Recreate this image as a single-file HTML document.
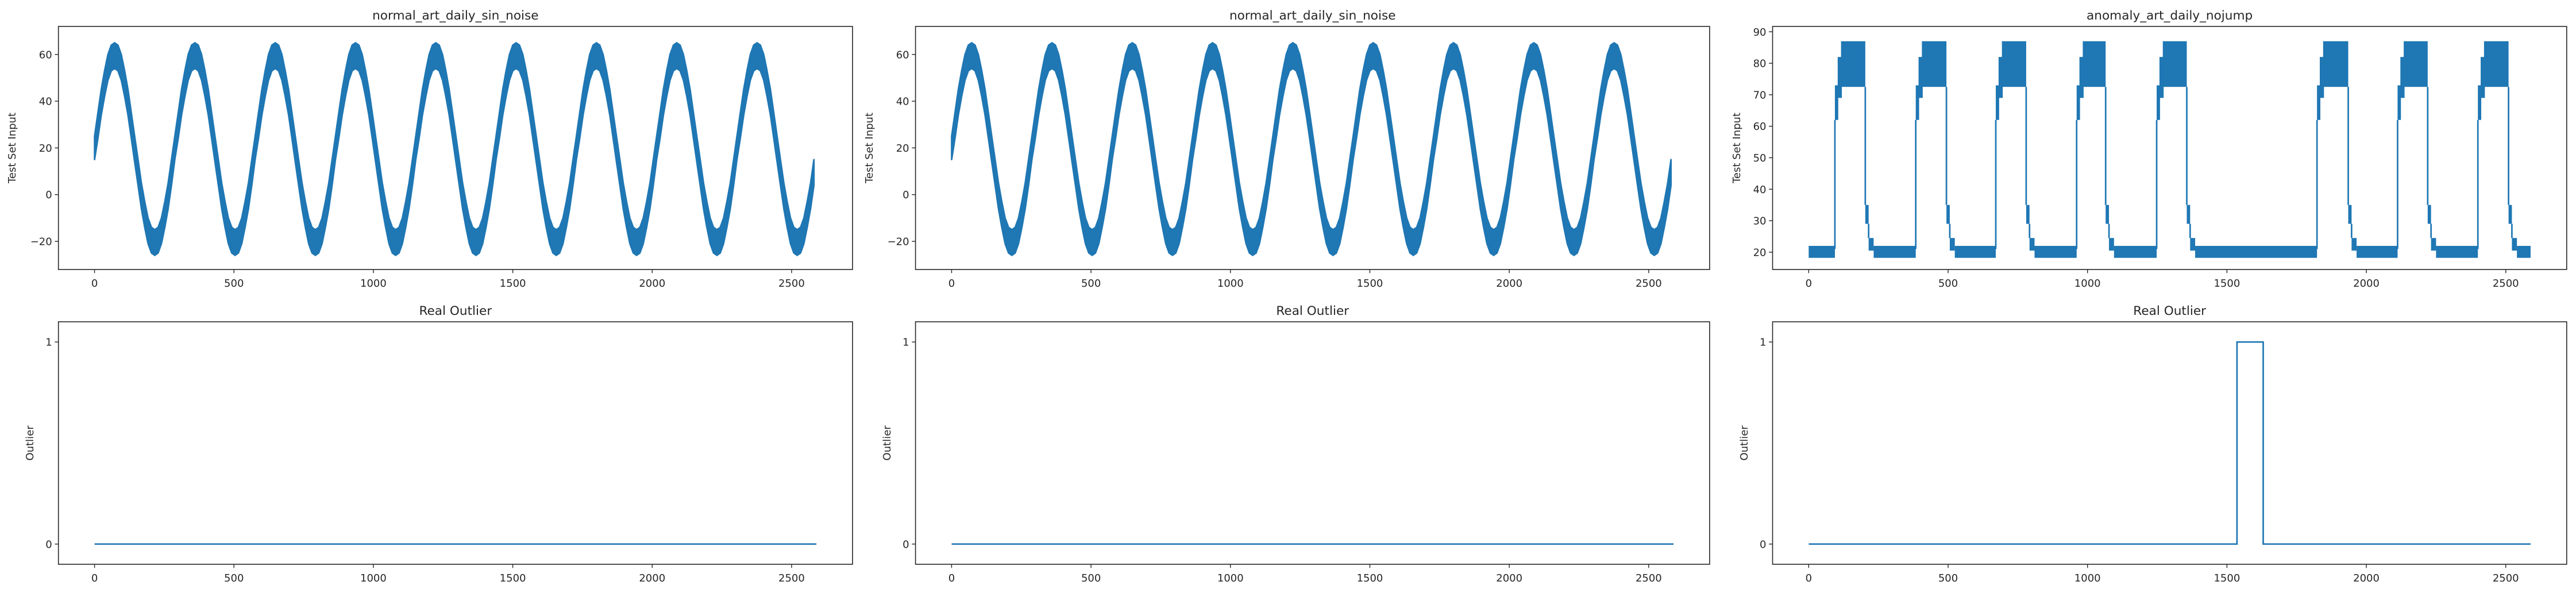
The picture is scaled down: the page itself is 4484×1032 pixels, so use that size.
<!DOCTYPE html>
<html><head><meta charset="utf-8"><style>
html,body{margin:0;padding:0;background:#fff;}
svg{display:block;font-family:"DejaVu Sans","Liberation Sans",sans-serif;}
</style></head><body>
<svg id="fig" width="4484" height="1032" viewBox="0 0 4484 1032" xmlns="http://www.w3.org/2000/svg"></svg>
<script>
// ---- data ----
const xTicks = [0, 500, 1000, 1500, 2000, 2500];
const sinTicks = [-20, 0, 20, 40, 60];
const jumpTicks = [20, 30, 40, 50, 60, 70, 80, 90];
const outTicks = [0, 1];
const sampleStep = 12;
const sinCycleUpper = [25,35,45,53,60,64,65,64,60,53,45,35,25,15,5,-3,-10,-14,-15,-14,-10,-3,5,15];
const sinCycleLower = [15,24,34,42,49,53,54,53,49,42,34,24,14,4,-6,-14,-21,-25,-26,-25,-21,-14,-6,4];
const sinCycles = 9;
const seriesLength = 2589;
const highStart = [94, 384, 671, 961, 1248, 1823, 2112, 2400];
const highEnd = [203, 494, 780, 1065, 1356, 1935, 2220, 2510];
const lowBand = [18.2, 22];
const highBand = [72.5, 87];
const rampBand = [62, 73];
const tailBand = [29, 35];
const tail2Band = [20.5, 24.5];
const outlierStart = [1536];
const outlierEnd = [1630];
const titlesTop = ["normal_art_daily_sin_noise", "normal_art_daily_sin_noise", "anomaly_art_daily_nojump"];

// ---- layout ----
const NS = "http://www.w3.org/2000/svg";
const svg = document.getElementById("fig");
const BLUE = "#1f77b4";
const colX = [101.7, 1593.6, 3085.5];
const PW = 1382.3;
const rowTop = [46, 560], rowBot = [469, 982];
const xDom = [-129.5, 2718.5];
function mk(tag, attrs, parent) {
  const e = document.createElementNS(NS, tag);
  for (const k in attrs) e.setAttribute(k, attrs[k]);
  (parent || svg).appendChild(e);
  return e;
}
function xs(c) { return v => colX[c] + (v - xDom[0]) / (xDom[1] - xDom[0]) * PW; }
function ys(r, dom) { return v => rowBot[r] - (v - dom[0]) / (dom[1] - dom[0]) * (rowBot[r] - rowTop[r]); }

function axes(c, r, dom, yt, title, ylabel, ylOff) {
  const g = mk("g", {});
  
  
  const X = xs(c), Y = ys(r, dom);
  const x0 = colX[c], x1 = colX[c] + PW;
  const ticks = mk("g", {}, g);
  
  
  xTicks.forEach(t => {
    mk("line", {x1: X(t), x2: X(t), y1: rowBot[r], y2: rowBot[r] + 6.3, stroke: "#262626", "stroke-width": 1.4}, ticks);
    const tx = mk("text", {x: X(t), y: rowBot[r] + 30, "text-anchor": "middle", "font-size": 18, fill: "#262626"}, ticks);
    tx.textContent = t;
    
    
  });
  const yg = mk("g", {}, g);
  
  
  yt.forEach(t => {
    mk("line", {x1: x0 - 6.3, x2: x0, y1: Y(t), y2: Y(t), stroke: "#262626", "stroke-width": 1.4}, yg);
    const tx = mk("text", {x: x0 - 11, y: Y(t) + 6.5, "text-anchor": "end", "font-size": 18, fill: "#262626"}, yg);
    tx.textContent = t < 0 ? "\u2212" + (-t) : t;
    
    
  });
  const cy = (rowTop[r] + rowBot[r]) / 2, lx = x0 - ylOff;
  const yl = mk("text", {x: lx, y: cy, transform: `rotate(-90 ${lx} ${cy})`, "text-anchor": "middle", "dominant-baseline": "central", "font-size": 18, fill: "#262626"}, g);
  yl.textContent = ylabel;
  
  
  const tt = mk("text", {x: x0 + PW / 2, y: rowTop[r] - 12, "text-anchor": "middle", "font-size": 21.6, fill: "#262626"}, g);
  tt.textContent = title;
  
  
  return {g, X, Y, x0, x1};
}
function frame(a, r) {
  const f = mk("rect", {x: a.x0, y: rowTop[r], width: PW, height: rowBot[r] - rowTop[r], fill: "none", stroke: "#262626", "stroke-width": 1.6}, a.g);
  
  
}

// sine panels
for (let c = 0; c < 2; c++) {
  const dom = [-32.05, 72.0];
  const a = axes(c, 0, dom, sinTicks, titlesTop[c], "Test Set Input", 80);
  const up = [], lo = [];
  for (let k = 0; k < sinCycles; k++) {
    for (let i = 0; i < sinCycleUpper.length; i++) {
      const t = (k * sinCycleUpper.length + i) * sampleStep;
      if (t > seriesLength) break;
      up.push([a.X(t), a.Y(sinCycleUpper[i])]);
      lo.push([a.X(t), a.Y(sinCycleLower[i])]);
    }
  }
  const pts = up.concat(lo.reverse()).map(p => p[0].toFixed(1) + "," + p[1].toFixed(1)).join(" ");
  const p = mk("polygon", {points: pts, fill: BLUE, stroke: BLUE, "stroke-width": 2.7, "stroke-linejoin": "round"}, a.g);
  
  
  frame(a, 0);
}

// jump panel
{
  const dom = [14.5, 91.7];
  const a = axes(2, 0, dom, jumpTicks, titlesTop[2], "Test Set Input", 62);
  const g = mk("g", {}, a.g);
  
  
  function band(t0, t1, b) {
    const r = mk("rect", {x: a.X(t0), y: a.Y(b[1]), width: Math.max(1, a.X(t1) - a.X(t0)), height: a.Y(b[0]) - a.Y(b[1]), fill: BLUE}, g);
    
    
  }
  let prev = 0;
  highStart.forEach((s, i) => {
    const e = highEnd[i];
    band(prev, s, lowBand);
    mk("line", {x1: a.X(s), x2: a.X(s), y1: a.Y(21), y2: a.Y(rampBand[0]), stroke: BLUE, "stroke-width": 2.7}, g);
    band(s, s + 12, rampBand);
    band(s + 10, s + 25, [rampBand[1] - 4, highBand[1] - 5]);
    band(s + 22, e, highBand);
    mk("line", {x1: a.X(e), x2: a.X(e), y1: a.Y(highBand[0]), y2: a.Y(tailBand[1]), stroke: BLUE, "stroke-width": 2.7}, g);
    band(e, e + 12, tailBand);
    mk("line", {x1: a.X(e + 12), x2: a.X(e + 12), y1: a.Y(tailBand[0]), y2: a.Y(tail2Band[1]), stroke: BLUE, "stroke-width": 2.7}, g);
    band(e + 12, e + 30, tail2Band);
    prev = e + 30;
  });
  band(prev, seriesLength, lowBand);
  frame(a, 0);
}

// outlier panels
for (let c = 0; c < 3; c++) {
  const dom = [-0.1, 1.1];
  const a = axes(c, 1, dom, outTicks, "Real Outlier", "Outlier", 49);
  let pts = [[0, 0]];
  if (c === 2) {
    outlierStart.forEach((s, i) => {
      pts.push([s, 0], [s, 1], [outlierEnd[i], 1], [outlierEnd[i], 0]);
    });
  }
  pts.push([seriesLength, 0]);
  const pl = mk("polyline", {points: pts.map(p => a.X(p[0]).toFixed(1) + "," + a.Y(p[1]).toFixed(1)).join(" "), fill: "none", stroke: BLUE, "stroke-width": 2.7}, a.g);
  
  
  frame(a, 1);
}
</script>
</body></html>
